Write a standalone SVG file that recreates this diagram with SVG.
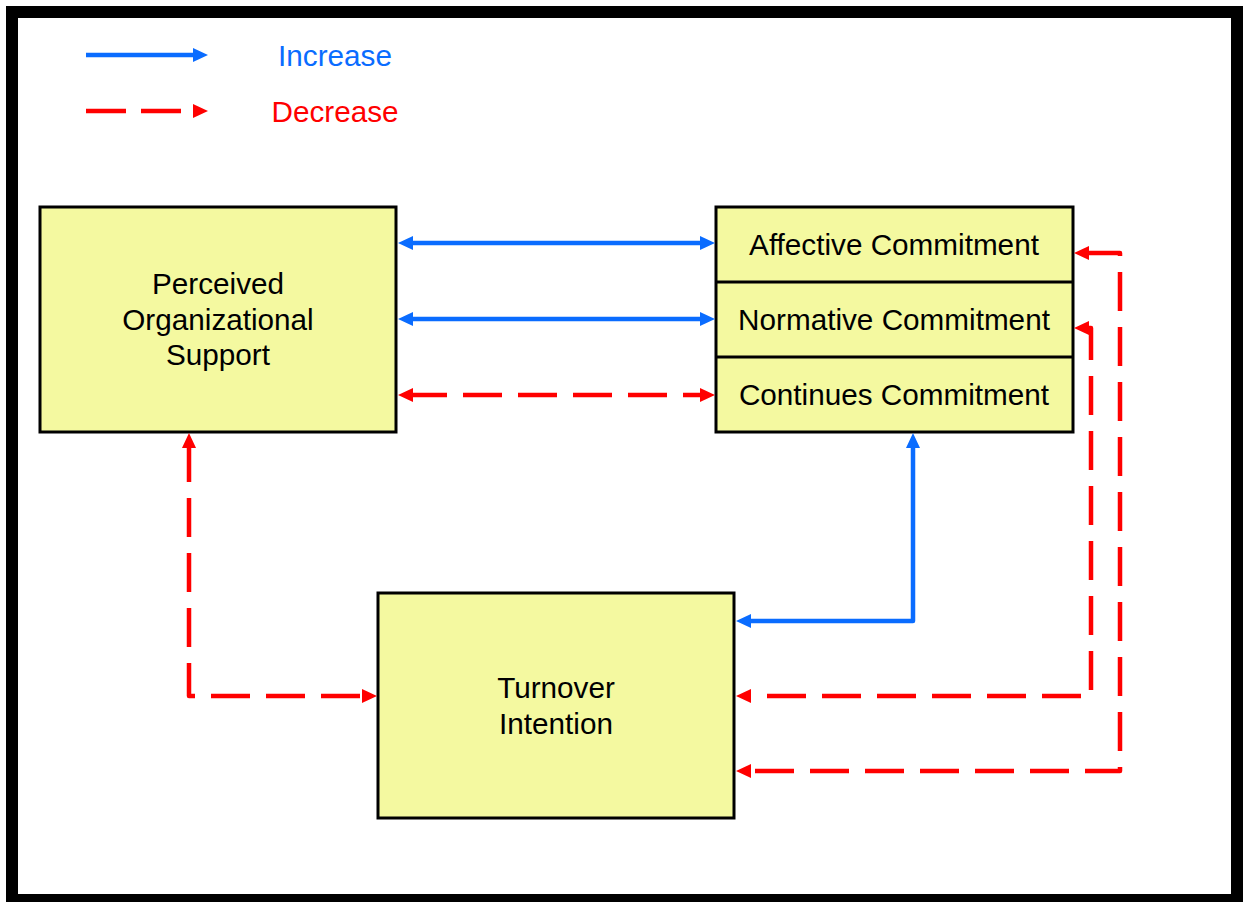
<svg xmlns="http://www.w3.org/2000/svg" width="1243" height="902" viewBox="0 0 1243 902">
<style>
.box{fill:#F4F9A0;stroke:#000;stroke-width:3}
.lbl{font-family:"Liberation Sans",Arial,sans-serif;font-size:29.7px;fill:#000;text-anchor:middle}
.inc{fill:none;stroke:#0A6CFF;stroke-width:4.5;stroke-linejoin:round}
.dec{fill:none;stroke:#FF0000;stroke-width:4.5;stroke-dasharray:39 16;stroke-linejoin:round}
</style>
<defs>
<marker id="hb" markerUnits="userSpaceOnUse" markerWidth="15" markerHeight="14" refX="5" refY="7" orient="auto-start-reverse" viewBox="0 0 15 14"><path d="M0,0 L15,7 L0,14 z" fill="#0A6CFF"/></marker>
<marker id="hr" markerUnits="userSpaceOnUse" markerWidth="15" markerHeight="14" refX="5" refY="7" orient="auto-start-reverse" viewBox="0 0 15 14"><path d="M0,0 L15,7 L0,14 z" fill="#FF0000"/></marker>
</defs>
<rect x="0" y="0" width="1243" height="902" fill="#fff"/>
<rect x="12" y="12" width="1225" height="888" fill="#fff" stroke="#000" stroke-width="12"/>
<g id="legend">
<path class="inc" d="M86,55 H198" marker-end="url(#hb)"/>
<text x="335" y="66" class="lbl" style="fill:#0A6CFF">Increase</text>
<path d="M86,111 H181" fill="none" stroke="#FF0000" stroke-width="4.5" stroke-dasharray="40 15"/>
<polygon points="193,104 208,111 193,118" fill="#FF0000"/>
<text x="335" y="122" class="lbl" style="fill:#FF0000">Decrease</text>
</g>
<g id="pos">
<rect class="box" x="40" y="207" width="356" height="225"/>
<text class="lbl" x="218" y="294">Perceived</text>
<text class="lbl" x="218" y="330">Organizational</text>
<text class="lbl" x="218" y="365">Support</text>
</g>
<g id="commitment">
<rect class="box" x="716" y="207" width="357" height="225"/>
<line x1="716" y1="282" x2="1073" y2="282" stroke="#000" stroke-width="3"/>
<line x1="716" y1="357" x2="1073" y2="357" stroke="#000" stroke-width="3"/>
<text class="lbl" x="894" y="255">Affective Commitment</text>
<text class="lbl" x="894" y="330">Normative Commitment</text>
<text class="lbl" x="894" y="405">Continues Commitment</text>
</g>
<g id="turnover">
<rect class="box" x="378" y="593" width="356" height="225"/>
<text class="lbl" x="556" y="698">Turnover</text>
<text class="lbl" x="556" y="734">Intention</text>
</g>
<g id="connectors">
<path class="inc" d="M408,243 H705" marker-start="url(#hb)" marker-end="url(#hb)"/>
<path class="inc" d="M408,319 H705" marker-start="url(#hb)" marker-end="url(#hb)"/>
<path class="dec" d="M408,395 H705" marker-start="url(#hr)" marker-end="url(#hr)"/>
<path class="dec" d="M189,443 V696 H367" marker-start="url(#hr)" marker-end="url(#hr)"/>
<path class="inc" d="M913,443 V621 H746" marker-start="url(#hb)" marker-end="url(#hb)"/>
<path class="dec" d="M1084,328 H1091 V696 H746" marker-start="url(#hr)" marker-end="url(#hr)"/>
<path class="dec" d="M1084,253 H1120 V771 H746" marker-start="url(#hr)" marker-end="url(#hr)"/>
</g>
</svg>
